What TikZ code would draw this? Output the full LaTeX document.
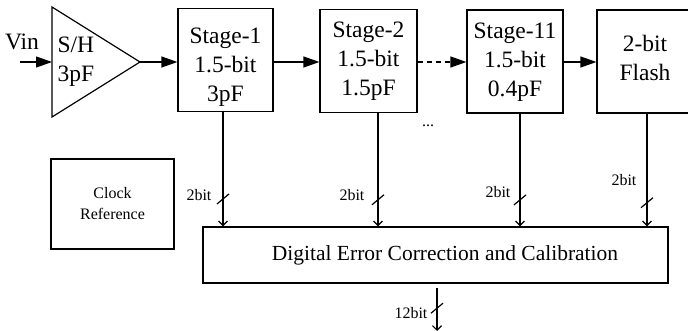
\documentclass[tikz,border=0pt]{standalone}
\usepackage{fontspec}
\setmainfont{Liberation Serif}
\usetikzlibrary{arrows.meta, positioning, calc}

\begin{document}
\begin{tikzpicture}[
          x=1pt, y=-1pt,
          line width=1.2pt,
          big/.style={font=\fontsize{23.5}{29}\selectfont},
          small/.style={font=\fontsize{16}{21}\selectfont},
          stagebox/.style={draw, minimum width=96pt, minimum height=103pt, inner sep=0pt},
          stagetxt/.style={big, align=center, inner sep=0pt},
          arr/.style={-{Triangle[length=16pt,width=11pt]}},
          bus/.style={-{Straight Barb[length=4.5pt,width=9pt]}},
          bitlbl/.style={small, anchor=east, inner sep=0pt}
        ]
          \useasboundingbox (0,0) rectangle (688,331);
          % sample and hold
          \coordinate (vstart) at (20,62);
          \coordinate (shin) at (52,62);
          \coordinate (shout) at (140,62);
          \draw (52,7) -- (shout) -- (52,117) -- cycle;
          \node[big, align=left, anchor=west, inner sep=0pt] (sh) at (57,62) {S/H\\3pF};
          \node[big, inner sep=0pt] (vin) at (22,42) {Vin};

          % pipeline
          \node[stagebox, minimum width=95pt] (s1) at (225.5,60) {};
          \node[stagetxt] (s1txt) at (225.5,67) {Stage-1\\1.5-bit\\3pF};
          \node[stagebox, minimum width=97pt] (s2) at (368.5,61) {};
          \node[stagetxt] (s2txt) at (368.5,61) {Stage-2\\1.5-bit\\1.5pF};
          \node[stagebox] (s11) at (515,61.5) {};
          \node[stagetxt] (s11txt) at (515,62.5) {Stage-11\\1.5-bit\\0.4pF};
          \node[stagebox] (flash) at (645,61.5) {};
          \node[stagetxt] (flashtxt) at (645,58) {2-bit\\Flash};
          \node[small, inner sep=0pt] (dots) at (428,126) {...};

          \draw[arr] (vstart) -- (shin);
          \draw[arr] (shout) -- (s1.west |- shout);
          \draw[arr] (s1.east |- shout) -- (s2.west |- shout);
          \draw[arr, dash pattern=on 5pt off 4pt] (s2.east |- shout) -- (s11.west |- shout);
          \draw[arr] (s11.east |- shout) -- (flash.west |- shout);

          % correction block
          \node[draw, minimum width=465pt, minimum height=56pt] (dec) at (435.5,255) {};
          \node[font=\fontsize{21.5}{26}\selectfont, inner sep=0pt] (dectxt) at (445,255) {Digital Error Correction and Calibration};
          \node[draw, small, align=center, minimum width=123pt, minimum height=90pt] (clk) at (112.5,204) {Clock\\Reference};

          \draw[bus] ([xshift=-2.5pt]s1.south) -- ([xshift=-2.5pt]s1.south |- dec.north) coordinate[pos=0.76] (b1);
          \draw[bus] ([xshift=9.5pt]s2.south) -- ([xshift=9.5pt]s2.south |- dec.north) coordinate[pos=0.765] (b2);
          \draw[bus] ([xshift=5pt]s11.south) -- ([xshift=5pt]s11.south |- dec.north) coordinate[pos=0.765] (b11);
          \draw[bus] ([xshift=2pt]flash.south) -- ([xshift=2pt]flash.south |- dec.north) coordinate[pos=0.79] (bf);
          \coordinate (outtop) at (437,288);
          \coordinate (out) at (437,331);
          \draw[bus] (outtop) -- (out) coordinate[pos=0.47] (b12);

          \foreach \b in {b1, b2, b11, bf, b12}
            \draw ([shift={(-6,5)}]\b) -- ([shift={(6,-5)}]\b);

          \node[bitlbl] (l1) at (212,195) {2bit};
          \node[bitlbl] (l2) at (365,195) {2bit};
          \node[bitlbl] (l11) at (511,192) {2bit};
          \node[bitlbl] (lf) at (637,180) {2bit};
          \node[bitlbl] (l12) at (428,313) {12bit};
        \end{tikzpicture}
\end{document}
